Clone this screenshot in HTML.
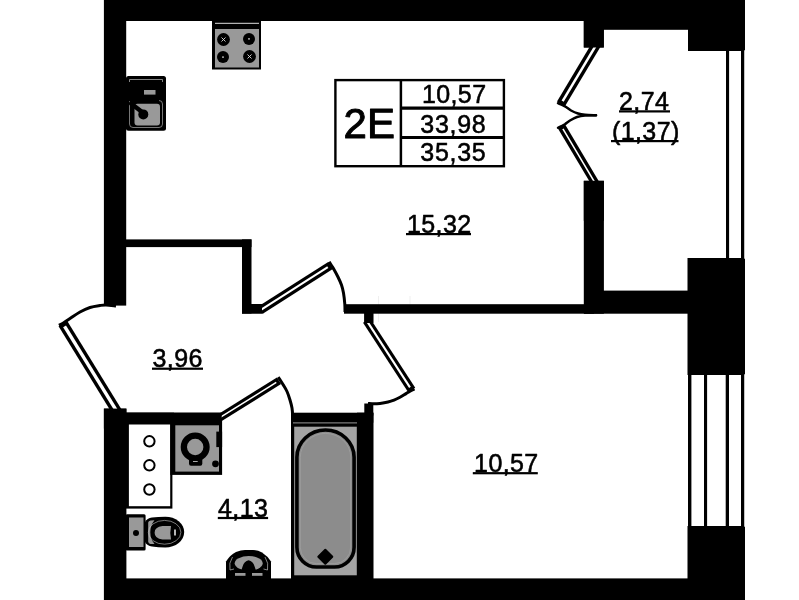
<!DOCTYPE html>
<html><head><meta charset="utf-8">
<style>
html,body{margin:0;padding:0;background:#fff;}
body{width:799px;height:600px;overflow:hidden;position:relative;font-family:"Liberation Sans",sans-serif;}
svg{position:absolute;left:0;top:0;display:block;filter:grayscale(100%);}
text{font-family:"Liberation Sans",sans-serif;fill:#000;}
</style></head><body>
<svg width="799" height="600" viewBox="0 0 799 600">
<rect width="799" height="600" fill="#fff"/>
<g fill="#ececec"><rect x="378" y="296" width="0.8" height="26"/><rect x="409.6" y="296" width="0.8" height="8"/></g>
<!-- WALLS -->
<g fill="#000">
<rect x="104" y="0" width="641" height="21"/>
<rect x="103.9" y="0" width="22.3" height="305.6"/>
<rect x="603" y="0" width="85" height="29.8"/>
<rect x="688" y="0" width="57" height="51"/>
<rect x="583.8" y="20" width="20" height="27.5"/>
<rect x="583.8" y="180.8" width="20.1" height="132.9"/>
<rect x="584" y="290.6" width="104" height="23.1"/>
<rect x="687.5" y="258" width="57.5" height="117"/>
<rect x="687.5" y="526" width="57.5" height="74"/>
<rect x="104" y="578.4" width="600" height="21.6"/>
<rect x="103.9" y="408.6" width="22.5" height="191.4"/>
<rect x="104" y="412.7" width="117.7" height="10"/><rect x="104" y="412.7" width="70" height="11.8"/>
<rect x="291" y="412.7" width="82.3" height="10"/>
<rect x="357" y="412.7" width="16.5" height="170"/>
<rect x="364.3" y="403.5" width="9" height="12"/>
<rect x="344" y="304.2" width="250" height="9.5"/>
<rect x="364.3" y="313" width="9" height="10"/>
<rect x="126" y="239.4" width="125.5" height="7.7"/>
<rect x="242" y="239.4" width="9.5" height="74.1"/>
<rect x="242" y="304" width="21.2" height="9.5"/>
</g>


<!-- STOVE -->
<g>
<rect x="212" y="20" width="49" height="49.5" fill="#000"/>
<rect x="215" y="22.8" width="44" height="1" fill="#ddd"/>
<rect x="215" y="29" width="44" height="38.5" fill="#999"/>
<circle cx="223.5" cy="39.5" r="6.4" fill="#000"/>
<circle cx="249" cy="39" r="6" fill="#000"/>
<circle cx="223" cy="57" r="6" fill="#000"/>
<circle cx="249.5" cy="56.5" r="6.4" fill="#000"/>
<path d="M221.5,37.5 L225.5,41.5 M225.5,37.5 L221.5,41.5" stroke="#ddd" stroke-width="0.9" fill="none"/>
<path d="M247.5,54.5 L251.5,58.5 M251.5,54.5 L247.5,58.5" stroke="#ddd" stroke-width="0.9" fill="none"/>
<rect x="248" y="38.3" width="2" height="1.2" fill="#ccc"/>
<rect x="222" y="56.5" width="2" height="1.2" fill="#ccc"/>
</g>
<!-- KITCHEN SINK -->
<g>
<rect x="126" y="76" width="40" height="54.7" rx="2.5" fill="#000"/>
<path d="M129.5,82 V79.5 H162.5 V82" stroke="#bbb" stroke-width="0.7" fill="none"/>
<rect x="144" y="90" width="11.5" height="4.6" fill="#999"/>
<path d="M129.5,101 V124 Q129.5,127.5 133,127.5 H159 Q162.5,127.5 162.5,124 V104 Q162.5,100.5 159,100.5" stroke="#aaa" stroke-width="0.7" fill="none"/>
<rect x="134.5" y="103.8" width="25.5" height="21.8" rx="3" fill="#999"/>
<circle cx="143.3" cy="114.4" r="5" fill="#000"/>
<path d="M131,103.5 L144,113.5" stroke="#000" stroke-width="4.5" stroke-linecap="round"/>
</g>
<!-- BATH CABINET -->
<g>
<rect x="126" y="423" width="46.4" height="85.6" fill="#000"/>
<rect x="128.9" y="424.5" width="41.3" height="81.7" fill="#fff"/>
<circle cx="149.4" cy="441.3" r="5.2" fill="#fff" stroke="#000" stroke-width="2"/>
<circle cx="149.4" cy="465.3" r="5.2" fill="#fff" stroke="#000" stroke-width="2"/>
<circle cx="149.4" cy="489.5" r="5.2" fill="#fff" stroke="#000" stroke-width="2"/>
</g>
<!-- WASHING MACHINE -->
<g>
<rect x="170.3" y="413" width="51.8" height="61.9" fill="#000"/>
<rect x="175.3" y="425.3" width="43.7" height="46.3" fill="#999"/>
<circle cx="195.2" cy="447" r="11.35" fill="#999" stroke="#000" stroke-width="6.3"/>
<rect x="189" y="457" width="13.3" height="8.8" rx="2" fill="#000"/>
<rect x="193" y="461" width="4.7" height="0.9" fill="#bbb"/>
<circle cx="215.5" cy="463.8" r="3.4" fill="#000"/>
<rect x="216.3" y="431.6" width="5.8" height="15.5" fill="#000"/>
</g>
<!-- TOILET -->
<g>
<rect x="125.5" y="514.2" width="20.1" height="36.3" rx="1.5" fill="#000"/>
<rect x="129" y="517.5" width="14.5" height="29.5" fill="#999"/>
<circle cx="136" cy="533" r="3" fill="#000"/>
<path d="M145,522 Q147,518.500 152,517.600 Q158,516.700 165.300,516.700 A18.900,15.400 0 0 1 165.300,547.500 Q158,547.500 152,546.600 Q147,545.700 145,542 Z" fill="#000"/>
<path d="M148.200,522.500 Q148.400,520.600 150.500,520.400 L154.500,520.300 Q150.300,525.500 150.300,532.200 Q150.300,539 154.500,544 L150.500,543.900 Q148.400,543.700 148.200,541.800 Z" fill="#999"/>
<ellipse cx="164.600" cy="532.300" rx="16.300" ry="11.900" fill="none" stroke="#c8c8c8" stroke-width="0.600"/>
<path d="M171,526.100 H162.500 Q154.600,527 154.600,532.800 Q154.600,538.600 162.500,539.600 H171 Q169.600,532.800 171,526.100 Z" fill="#999"/>
<rect x="174.100" y="529.500" width="1.800" height="6" fill="#ccc"/>
</g>
<!-- SMALL BASIN -->
<g>
<path d="M226,579 V561.500 Q230,555 236,552 Q241,550 245,550 H253 Q258,550 262,552.500 Q267.500,556 271,561.500 V579 Z" fill="#000"/>
<ellipse cx="248.700" cy="563.300" rx="14" ry="7.300" fill="#999"/>
<path d="M248.600,560.300 Q253,561.300 254.600,566.500 L256.200,571.200 L252,579 H245 L241,571.200 L242.600,566.500 Q244.200,561.300 248.600,560.300 Z" fill="#000"/>
<rect x="235" y="573" width="10.500" height="2.800" fill="#999"/>
<rect x="252" y="573" width="10.500" height="2.800" fill="#999"/>
<path d="M232.500,557 Q228.500,563 230,570 L234,569" stroke="#bbb" stroke-width="0.7" fill="none"/>
<path d="M265,557 Q269,563 267.500,570 L263.500,569" stroke="#bbb" stroke-width="0.7" fill="none"/>
</g>
<!-- BATHTUB -->
<g>
<rect x="291" y="413" width="68" height="166" fill="#000"/>
<rect x="293" y="422.400" width="64" height="1" fill="#999"/>
<rect x="294.200" y="426.700" width="62.600" height="148.600" fill="#a4a4a4"/>
<path d="M296.900,457.300 A28.600,27.300 0 0 1 354.100,457.300 V547.300 A19.500,19.700 0 0 1 334.600,567 H316.400 A19.500,19.700 0 0 1 296.900,547.300 Z" fill="#8c8c8c" stroke="#000" stroke-width="3.6"/>
<path d="M300.300,457.300 A25.200,23.900 0 0 1 350.700,457.300 V547.300 A16.100,16.300 0 0 1 334.600,563.600 H316.400 A16.100,16.300 0 0 1 300.300,547.300 Z" fill="none" stroke="#a0a0a0" stroke-width="0.800"/>
<path d="M325.300,549.700 L332.300,556.700 L325.300,563.700 L318.300,556.700 Z" fill="#000" stroke="#000" stroke-width="2" stroke-linejoin="round"/>
</g>
<!-- WINDOWS -->
<g fill="#000">
<rect x="726" y="50" width="3.1" height="209"/>
<rect x="741" y="50" width="3.3" height="209"/>
<rect x="744.3" y="50" width="0.7" height="209" fill="#ccc"/>
<rect x="688" y="374" width="3.4" height="153"/>
<rect x="704" y="374" width="3.1" height="153"/>
<rect x="725.7" y="374" width="3.3" height="153"/>
<rect x="741" y="374" width="3.3" height="153"/>
<rect x="744.3" y="374" width="0.7" height="153" fill="#ccc"/>
</g>
<!-- DOORS -->
<g>
<path d="M59.00,325.30 C59.67,324.95 61.17,324.33 63.00,323.20 C64.83,322.07 67.17,320.37 70.00,318.50 C72.83,316.63 76.67,313.83 80.00,312.00 C83.33,310.17 86.67,308.58 90.00,307.50 C93.33,306.42 97.33,305.92 100.00,305.50 C102.67,305.08 103.33,304.92 106.00,305.00 C108.67,305.08 114.33,305.83 116.00,306.00" fill="none" stroke="#000" stroke-width="3" stroke-linecap="butt" stroke-linejoin="round"/>
<path d="M329.20,261.80 C329.58,262.42 330.70,264.22 331.50,265.50 C332.30,266.78 332.92,267.58 334.00,269.50 C335.08,271.42 336.75,274.42 338.00,277.00 C339.25,279.58 340.58,282.33 341.50,285.00 C342.42,287.67 342.95,289.83 343.50,293.00 C344.05,296.17 344.55,300.83 344.80,304.00 C345.05,307.17 344.97,310.67 345.00,312.00" fill="none" stroke="#000" stroke-width="3" stroke-linecap="butt" stroke-linejoin="round"/>
<path d="M414.50,389.00 C413.75,389.37 411.42,390.43 410.00,391.20 C408.58,391.97 407.67,392.58 406.00,393.60 C404.33,394.62 402.00,396.22 400.00,397.30 C398.00,398.38 396.00,399.32 394.00,400.10 C392.00,400.88 390.33,401.45 388.00,402.00 C385.67,402.55 382.33,403.10 380.00,403.40 C377.67,403.70 376.00,403.80 374.00,403.80 C372.00,403.80 369.00,403.47 368.00,403.40" fill="none" stroke="#000" stroke-width="3" stroke-linecap="butt" stroke-linejoin="round"/>
<path d="M278.20,377.20 C278.58,377.75 279.70,379.28 280.50,380.50 C281.30,381.72 281.92,382.67 283.00,384.50 C284.08,386.33 285.83,388.92 287.00,391.50 C288.17,394.08 289.17,397.25 290.00,400.00 C290.83,402.75 291.57,405.50 292.00,408.00 C292.43,410.50 292.52,412.67 292.60,415.00 C292.68,417.33 292.52,420.83 292.50,422.00" fill="none" stroke="#000" stroke-width="3" stroke-linecap="butt" stroke-linejoin="round"/>
<path d="M558.00,103.20 C558.67,103.47 560.67,104.17 562.00,104.80 C563.33,105.43 564.50,106.05 566.00,107.00 C567.50,107.95 569.00,109.42 571.00,110.50 C573.00,111.58 575.67,112.78 578.00,113.50 C580.33,114.22 582.00,114.52 585.00,114.80 C588.00,115.08 594.17,115.13 596.00,115.20" fill="none" stroke="#000" stroke-width="2.5" stroke-linecap="round" stroke-linejoin="round"/>
<path d="M558.00,127.80 C558.58,127.53 560.33,126.80 561.50,126.20 C562.67,125.60 563.58,125.15 565.00,124.20 C566.42,123.25 568.00,121.70 570.00,120.50 C572.00,119.30 574.50,117.85 577.00,117.00 C579.50,116.15 581.83,115.70 585.00,115.40 C588.17,115.10 594.17,115.23 596.00,115.20" fill="none" stroke="#000" stroke-width="2.5" stroke-linecap="round" stroke-linejoin="round"/>
<line x1="116.97" y1="411.56" x2="62.90" y2="323.60" stroke="#000" stroke-width="10.2"/><line x1="116.71" y1="411.13" x2="64.58" y2="326.33" stroke="#fff" stroke-width="3.4"/>
<line x1="260.47" y1="310.21" x2="330.50" y2="265.50" stroke="#000" stroke-width="8.6"/><line x1="260.89" y1="309.95" x2="327.80" y2="267.22" stroke="#fff" stroke-width="2.1"/>
<line x1="366.57" y1="320.48" x2="411.70" y2="390.00" stroke="#000" stroke-width="8.4"/><line x1="366.84" y1="320.90" x2="409.96" y2="387.32" stroke="#fff" stroke-width="2.1"/>
<line x1="218.95" y1="418.19" x2="279.00" y2="380.75" stroke="#000" stroke-width="7.8"/><line x1="219.38" y1="417.92" x2="276.28" y2="382.44" stroke="#fff" stroke-width="1.6"/>
<line x1="596.34" y1="44.72" x2="561.00" y2="103.90" stroke="#000" stroke-width="9.3"/><line x1="596.08" y1="45.15" x2="562.64" y2="101.15" stroke="#fff" stroke-width="2.5"/>
<line x1="595.74" y1="183.98" x2="561.30" y2="126.20" stroke="#000" stroke-width="8.2"/><line x1="595.48" y1="183.55" x2="562.94" y2="128.95" stroke="#fff" stroke-width="1.6"/>
<g fill="#000"><rect x="583.8" y="20" width="20" height="27.5"/><rect x="583.8" y="180.8" width="20.1" height="40"/><rect x="364.3" y="313" width="9" height="10"/><rect x="103.9" y="408.6" width="22.5" height="20"/><rect x="104" y="412.7" width="117.7" height="10"/><rect x="242" y="304" width="20" height="9.5"/></g>
</g>
<!-- LABEL TABLE -->
<g fill="none" stroke="#000">
<rect x="335.4" y="80.1" width="168.5" height="86.1" stroke-width="2.4"/>
<line x1="400.9" y1="80" x2="400.9" y2="167" stroke-width="2.5"/>
<line x1="400" y1="108.1" x2="504" y2="108.1" stroke-width="3.1"/>
<line x1="400" y1="137.5" x2="504" y2="137.5" stroke-width="3"/>
</g>
<g stroke="#000" stroke-width="0.55" stroke-linejoin="round">
<text x="343.6" y="137.8" font-size="42" stroke-width="1">2E</text>
<g font-size="25" letter-spacing="0.4">
<text x="421.9" y="103.4">10,57</text>
<text x="420.3" y="132.5" letter-spacing="0.7">33,98</text>
<text x="420.3" y="161.2" letter-spacing="0.7">35,35</text>
<!-- ROOM LABELS -->
<text x="407" y="232.8">15,32</text>
<text x="619" y="110">2,74</text>
<text x="612" y="139.6">(1,37)</text>
<text x="152.5" y="367.3">3,96</text>
<text x="218" y="516.6">4,13</text>
<text x="474.1" y="471.8">10,57</text>
</g>
</g>
<rect x="406" y="233" width="65" height="2.2"/>
<rect x="619" y="110.3" width="51" height="2.2"/>
<rect x="611" y="140" width="67.5" height="2.2"/>
<rect x="152" y="367.6" width="51" height="2.2"/>
<rect x="217.8" y="516.9" width="50.3" height="2.2"/>
<rect x="472.8" y="472.1" width="65" height="2.2"/>
</svg>
</body></html>
